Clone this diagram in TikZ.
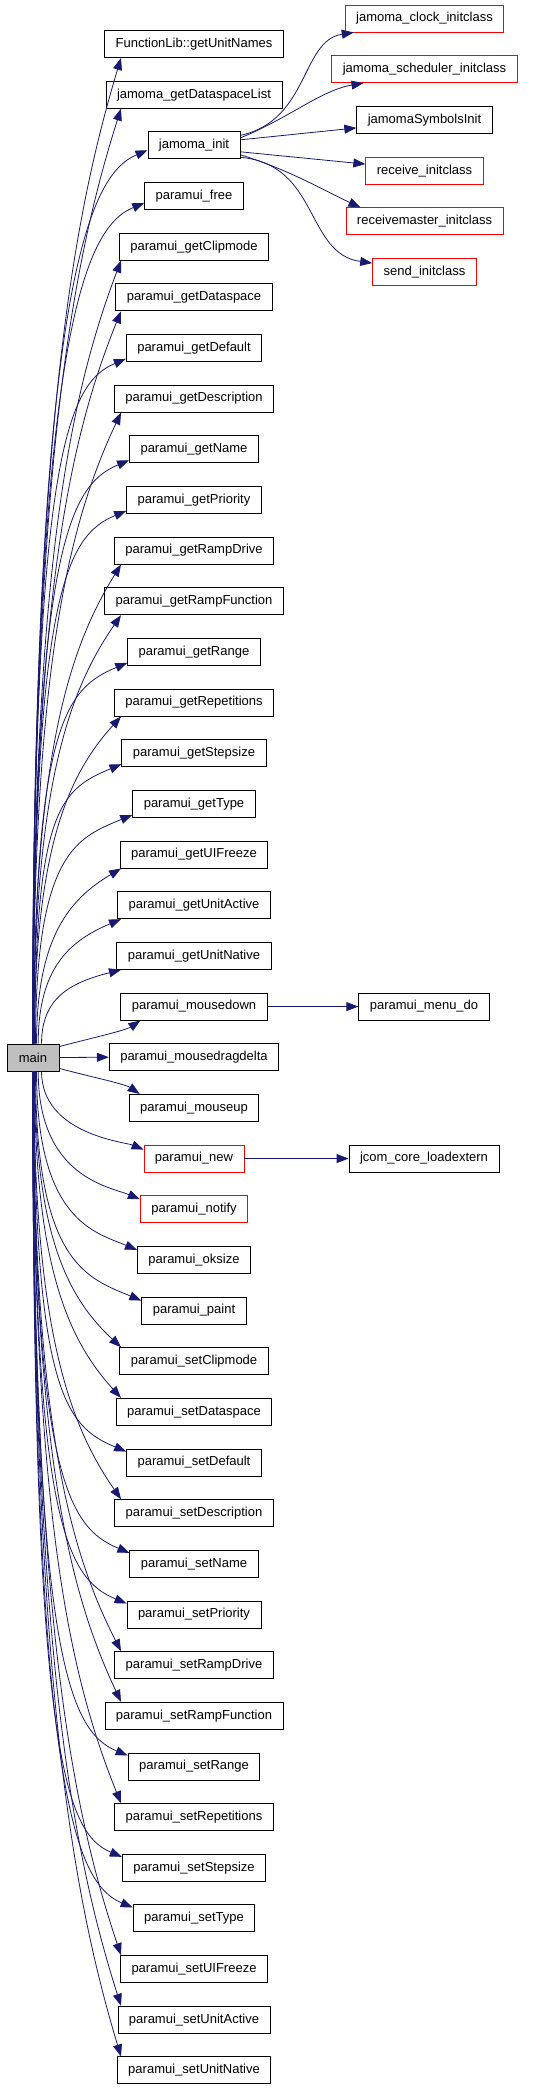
\documentclass[tikz,border=0pt]{standalone}
\usepackage{fontspec}
\setmainfont{Liberation Sans}
\usetikzlibrary{calc,arrows.meta}
\definecolor{callblue}{HTML}{191970}
\definecolor{maingray}{HTML}{BFBFBF}

\begin{document}
\begin{tikzpicture}[x=1pt, y=-1pt, font=\fontsize{13}{15}\selectfont,
    >={Triangle[length=12pt,width=9pt]},
    fn/.style={draw, line width=0.9pt, minimum height=27pt,
               inner xsep=11pt, inner ysep=0pt},
    call/.style={->, color=callblue, line width=0.8pt}]
  \useasboundingbox (0,0) rectangle (541,2089);
  \node[fn, fill=maingray, minimum width=52pt] (main) at (33,1057.5) {main};
  % callees of main, one row each
  \foreach \k/\txt/\bc in {0/FunctionLib::getUnitNames/black,
      1/jamoma\_getDataspaceList/black, 2/jamoma\_init/black,
      3/paramui\_free/black, 4/paramui\_getClipmode/black,
      5/paramui\_getDataspace/black, 6/paramui\_getDefault/black,
      7/paramui\_getDescription/black, 8/paramui\_getName/black,
      9/paramui\_getPriority/black, 10/paramui\_getRampDrive/black,
      11/paramui\_getRampFunction/black, 12/paramui\_getRange/black,
      13/paramui\_getRepetitions/black, 14/paramui\_getStepsize/black,
      15/paramui\_getType/black, 16/paramui\_getUIFreeze/black,
      17/paramui\_getUnitActive/black, 18/paramui\_getUnitNative/black,
      19/paramui\_mousedown/black, 20/paramui\_mousedragdelta/black,
      21/paramui\_mouseup/black, 22/paramui\_new/red,
      23/paramui\_notify/red, 24/paramui\_oksize/black,
      25/paramui\_paint/black, 26/paramui\_setClipmode/black,
      27/paramui\_setDataspace/black, 28/paramui\_setDefault/black,
      29/paramui\_setDescription/black, 30/paramui\_setName/black,
      31/paramui\_setPriority/black, 32/paramui\_setRampDrive/black,
      33/paramui\_setRampFunction/black, 34/paramui\_setRange/black,
      35/paramui\_setRepetitions/black, 36/paramui\_setStepsize/black,
      37/paramui\_setType/black, 38/paramui\_setUIFreeze/black,
      39/paramui\_setUnitActive/black, 40/paramui\_setUnitNative/black}
    \node[fn, draw=\bc] (f\k) at (194,44+50.66*\k) {\txt};
  % callees of jamoma_init and the two others
  \foreach \j/\nm/\txt/\bc in {0/jclock/jamoma\_clock\_initclass/red,
      1/jsched/jamoma\_scheduler\_initclass/red,
      2/jsym/jamomaSymbolsInit/black, 3/recv/receive\_initclass/red,
      4/recvmaster/receivemaster\_initclass/red, 5/send/send\_initclass/red}
    \node[fn, draw=\bc] (\nm) at (424.5,18.5+50.7*\j) {\txt};
  \node[fn] (menudo) at (424,44+50.66*19) {paramui\_menu\_do};
  \node[fn] (loadext) at (424,44+50.66*22) {jcom\_core\_loadextern};
  % arrows from main, upward (tw=0: into the bottom, else into the west side)
  \coordinate (tipcol) at (121,0);
  \foreach \k/\tw in {0/0, 1/0, 2/9, 3/7, 4/0, 5/0, 6/3, 7/0, 8/3, 9/3,
                      10/0, 11/0, 12/3, 13/0, 14/3, 15/3, 16/0, 17/0, 18/0} {
    \pgfmathsetmacro\dd{986.5-50.66*\k}
    \pgfmathsetmacro\sx{25+20/(20-\k)}
    \pgfmathsetmacro\s{min(1,\dd/250)}
    \ifnum\tw=0\relax
      \draw[call] ($(main.north west)+(\sx,0)$) .. controls +(0,-0.6*\dd)
          and +(-52,0.175*\dd) .. (tipcol |- f\k.south);
    \else
      \draw[call] ($(main.north west)+(\sx,0)$) .. controls +(0,-0.85*\dd)
          and +(-60*\s,25*\s) .. ($(f\k.south west)+(0,-\tw)$);
    \fi
  }
  % arrows from main, downward
  \foreach \k/\tw in {22/5, 23/4, 24/4, 25/4, 26/0, 27/0, 28/3, 29/0, 30/3,
                      31/3, 32/0, 33/0, 34/3, 35/0, 36/3, 37/3, 38/0, 39/0, 40/0} {
    \pgfmathsetmacro\dd{50.66*\k-1040.5}
    \pgfmathsetmacro\sx{25+20/(\k-20)}
    \pgfmathsetmacro\s{min(1,\dd/250)}
    \ifnum\tw=0\relax
      \draw[call] ($(main.south west)+(\sx,0)$) .. controls +(0,0.6*\dd)
          and +(-52,-0.175*\dd) .. (tipcol |- f\k.north);
    \else
      \draw[call] ($(main.south west)+(\sx,0)$) .. controls +(0,0.85*\dd)
          and +(-60*\s,-25*\s) .. ($(f\k.north west)+(0,\tw)$);
    \fi
  }
  % the three rows beside main
  \draw[call] ($(main.north east)+(0,3)$) .. controls +(30,-8) and +(-15,10)
      .. ($(f19.south west)+(20,0)$);
  \draw[call] (main.east) -- (f20.west);
  \draw[call] ($(main.south east)+(0,-3)$) .. controls +(30,8) and +(-15,-10)
      .. ($(f21.north west)+(11,0)$);
  \draw[call] (f19.east) -- (menudo.west);
  \draw[call] (f22.east) -- (loadext.west);
  % fan out of jamoma_init
  \draw[call] ($(f2.east)+(0,-10)$) .. controls +(69,-15) and +(-53,8)
      .. ($(jclock.south west)+(9,0)$);
  \draw[call] ($(f2.east)+(0,-7.5)$) .. controls +(49,-20) and +(-42,7)
      .. ($(jsched.south west)+(32,0)$);
  \draw[call] ($(f2.east)+(0,-5.5)$) -- ($(jsym.west)+(0,8)$);
  \draw[call] ($(f2.east)+(0,6.5)$) -- ($(recv.west)+(0,-6.5)$);
  \draw[call] ($(f2.east)+(0,9.5)$) .. controls +(49,15) and +(-35,-16)
      .. ($(recvmaster.north west)+(15,0)$);
  \draw[call] ($(f2.east)+(0,12)$) .. controls +(79,7) and +(-67,-9)
      .. ($(send.north west)+(0,5)$);
\end{tikzpicture}
\end{document}
